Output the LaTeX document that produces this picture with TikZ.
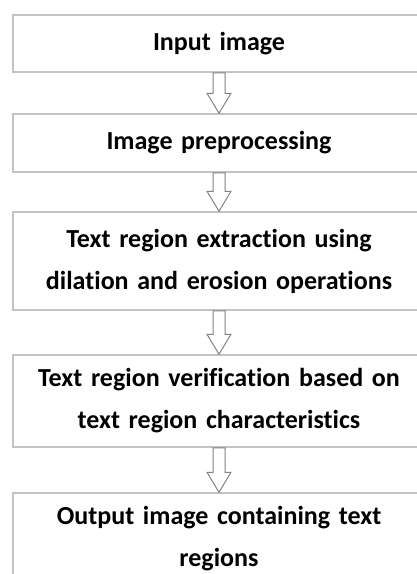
\documentclass[tikz,border=0pt]{standalone}
\usepackage{fontspec}
\setmainfont{Carlito}[Ligatures=NoCommon]
\usetikzlibrary{calc}
\definecolor{boxgray}{RGB}{195,195,195}
\definecolor{arrowgray}{RGB}{130,130,130}

\begin{document}
\begin{tikzpicture}[x=1pt,y=-1pt,
    stage/.style={draw=boxgray,line width=1.5pt,fill=white,minimum width=412pt,text width=412pt,inner sep=0pt,align=center,font=\fontsize{26}{42}\selectfont\bfseries},
    hollow/.style={draw=arrowgray,fill=white,line width=1pt,
        to path={($(\tikztostart)+(-6,0)$) -- ($(\tikztotarget)+(-6,-20)$) -- ($(\tikztotarget)+(-12,-20)$) -- (\tikztotarget)
            -- ($(\tikztotarget)+(12,-20)$) -- ($(\tikztotarget)+(6,-20)$) -- ($(\tikztostart)+(6,0)$) -- cycle}}]

        \path[use as bounding box,clip] (0,0) rectangle (417,574);

        \node[stage,minimum height=57pt] (input) at (219,43.5) {Input image};
        \node[stage,minimum height=58pt] (prep) at (219,143) {Image preprocessing};
        \node[stage,minimum height=98pt] (extract) at (219,261) {Text region extraction using\\dilation and erosion operations};
        \node[stage,minimum height=92pt] (verify) at (219,401) {Text region verification based on\\text region characteristics};
        \node[stage,minimum height=92pt] (output) at (219,539) {Output image containing text\\regions};

        \draw[hollow] (input.south) to (prep.north);
        \draw[hollow] (prep.south) to (extract.north);
        \draw[hollow] (extract.south) to (verify.north);
        \draw[hollow] (verify.south) to (output.north);
    \end{tikzpicture}
\end{document}
